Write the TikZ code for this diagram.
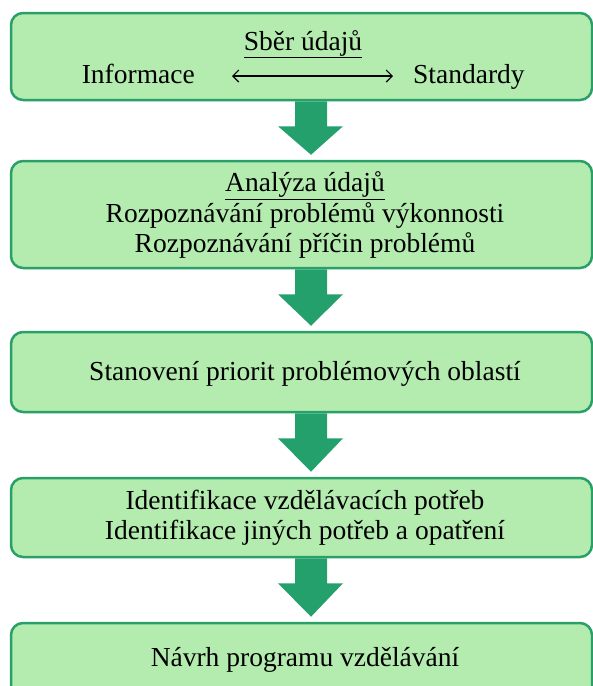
\documentclass[tikz,border=0pt]{standalone}
\usepackage{fontspec}
\setmainfont{Liberation Serif}
\usetikzlibrary{arrows.meta,calc}

\definecolor{boxFill}{RGB}{180,236,176}
\definecolor{boxLine}{RGB}{40,160,104}
\definecolor{fatGreen}{RGB}{36,160,108}

\begin{document}
\begin{tikzpicture}
[x=1pt,y=-1pt,
  boxDecorate/.style={shape=rectangle,rounded corners=12pt,draw=boxLine,
    fill=boxFill,line width=2.5pt,minimum width=581pt,align=center},
  textDecorate/.style={font=\fontsize{27.5}{30.5}\selectfont,align=center},
  fatDecorate/.style={fill=fatGreen},
  lineDecorate/.style={{Straight Barb[length=6pt,width=12pt]}-{Straight Barb[length=6pt,width=12pt]},line width=1.1pt}]
\useasboundingbox (0,0) rectangle (593,686);
\clip (0,0) rectangle (593,686);
%% boxes
\foreach \nodename/\y/\h in {
  sber/56.5/87,
  analyza/214.5/107,
  priority/372/80,
  potreby/517.5/79,
  navrh/663/80}
{
  \node (\nodename) at (301.5,\y) [boxDecorate,minimum height=\h pt] {};
}
%% texts
\node (sberTitle) at (303,50) [textDecorate,anchor=base] {\underline{Sběr údajů}};
\node (info) at (195,83) [textDecorate,anchor=base east,inner sep=0pt] {Informace};
\node (std) at (413,83) [textDecorate,anchor=base west,inner sep=0pt] {Standardy};
\node (analyzaText) at (305,215) [textDecorate]
  {\underline{Analýza údajů}\\Rozpoznávání problémů výkonnosti\\Rozpoznávání příčin problémů};
\node (priorityText) at (305,374) [textDecorate] {Stanovení priorit problémových oblastí};
\node (potrebyText) at (305,518) [textDecorate]
  {Identifikace vzdělávacích potřeb\\Identifikace jiných potřeb a opatření};
\node (navrhText) at (305,660) [textDecorate] {Návrh programu vzdělávání};
%% arrows
\draw[lineDecorate] ($(info.base east)+(37,-7)$) coordinate (infoEnd)
  -- ($(std.base west)+(-20,-7)$) coordinate (stdEnd);
\foreach \a/\b in {sber/analyza,analyza/priority,priority/potreby,potreby/navrh}
{
  \fill[fatDecorate] ($(\a.south)+(-6.5,0)$) -- ($(\a.south)+(25.5,0)$)
    -- ($(\a.south)+(25.5,25)$) -- ($(\a.south)+(41.5,25)$)
    -- ($(\b.north)+(9.5,-5)$) -- ($(\a.south)+(-23.5,25)$)
    -- ($(\a.south)+(-6.5,25)$) -- cycle;
}
\end{tikzpicture}
\end{document}
